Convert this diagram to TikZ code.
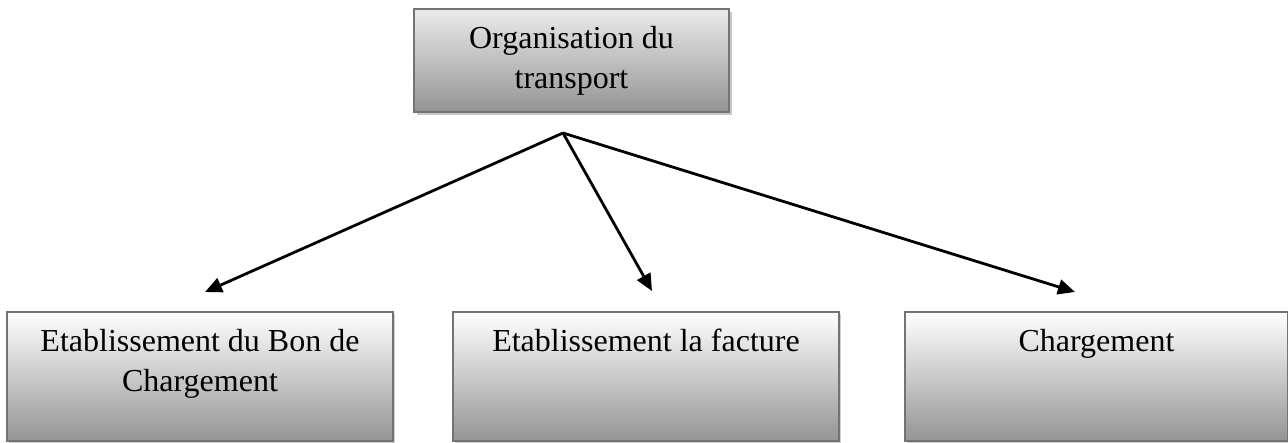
\documentclass[tikz,border=0pt]{standalone}
\usepackage{fontspec}
\setmainfont{Liberation Serif}
\usetikzlibrary{arrows.meta,shadows}

% fixed-size box body: text starts near the top, centred horizontally
\newcommand\boxbody[3]{\parbox[c][#2][t]{#1}{\vspace*{12pt}\centering\strut #3}}

\begin{document}
\begin{tikzpicture}[x=1pt,y=1pt,
  boxframe/.style={rectangle, draw=black!55, line width=2pt, inner sep=0pt, outer sep=0pt,
                   font=\fontsize{32}{40}\selectfont},
  topbox/.style={boxframe, top color=black!8, bottom color=black!42,
                 general shadow={fill=black!22, shadow xshift=3pt, shadow yshift=-3pt}},
  subbox/.style={boxframe, top color=white, bottom color=black!42,
                 general shadow={fill=black!18, shadow xshift=2pt, shadow yshift=-2pt}},
  link/.style={line width=2.8pt, -{Triangle[length=17pt,width=15pt]}}]

\useasboundingbox (0,0) rectangle (1288,442);

% boxes
\node[topbox] (org) at (571.5,381.5) {\boxbody{315pt}{103pt}{Organisation du\\transport}};
\node[subbox] (bon) at (200,65.5) {\boxbody{386pt}{129pt}{Etablissement du Bon de\\Chargement}};
\node[subbox] (fact) at (646,65.5) {\boxbody{386pt}{129pt}{Etablissement la facture}};
\node[subbox] (charg) at (1096.5,65.5) {\boxbody{383pt}{129pt}{Chargement}};

% branching point and arrow ends
\coordinate (hub) at (563,309);
\coordinate (bonIn) at (205,150);
\coordinate (factIn) at (652,151);
\coordinate (chargIn) at (1075,150);

\draw[link] (hub) -- (bonIn);
\draw[link] (hub) -- (factIn);
\draw[link] (hub) -- (chargIn);
\end{tikzpicture}
\end{document}
